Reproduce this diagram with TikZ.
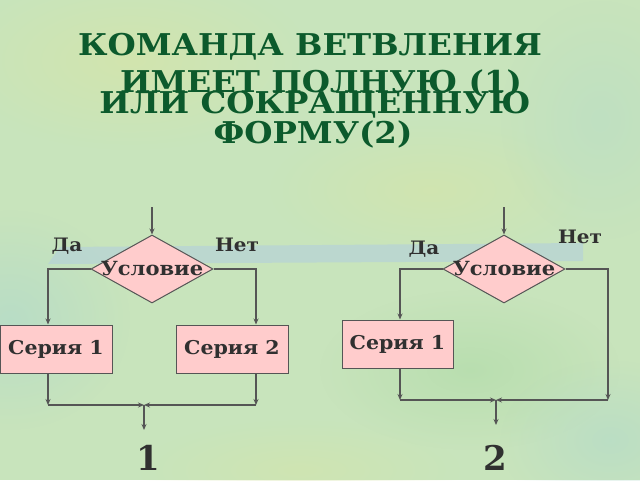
\documentclass[tikz,border=0pt]{standalone}
\usepackage{fontspec}
\setmainfont{DejaVu Serif}
\newfontfamily\widefont[FakeStretch=1.08]{DejaVu Serif}
\usetikzlibrary{shapes.geometric,arrows.meta,fadings}
\tikzfading[name=softblob, inner color=transparent!0, outer color=transparent!100]
\definecolor{bgbase}{RGB}{200,228,188}
\definecolor{bgyellow}{RGB}{214,228,168}
\definecolor{bgblue}{RGB}{178,218,202}
\definecolor{bggreen}{RGB}{178,220,170}
\definecolor{bandcol}{RGB}{182,210,216}
\definecolor{titlegreen}{RGB}{12,90,44}
\definecolor{boxpink}{RGB}{255,204,204}
\definecolor{edgegrey}{RGB}{85,85,85}
\definecolor{textgrey}{RGB}{48,48,48}
\begin{document}
\begin{tikzpicture}[x=1pt,y=-1pt,
  titletext/.style={anchor=base,text=titlegreen,font=\widefont\fontsize{30}{30}\selectfont\bfseries},
  seriesbox/.style={draw=edgegrey,line width=1pt,fill=boxpink,minimum height=48pt,inner sep=0pt,
     text=textgrey,font=\widefont\fontsize{19}{19}\selectfont\bfseries},
  condbox/.style={diamond,draw=edgegrey,line width=1pt,fill=boxpink,minimum width=122pt,
     minimum height=68pt,inner sep=0pt},
  condlabel/.style={text=textgrey,font=\widefont\fontsize{19.5}{19.5}\selectfont\bfseries,anchor=base},
  branchlabel/.style={text=textgrey,font=\widefont\fontsize{18.5}{18.5}\selectfont\bfseries,anchor=base},
  numlabel/.style={text=textgrey,font=\fontsize{34}{34}\selectfont\bfseries,anchor=base},
  flow/.style={draw=edgegrey,line width=1.1pt,-{Stealth[length=6pt,width=5pt]}}]
% background
\fill[bgbase] (0,0) rectangle (640,480);
\useasboundingbox (0,0) rectangle (640,480);
\fill[bgyellow,path fading=softblob,fill opacity=0.7] (130,60) ellipse (180 and 90);
\fill[bgyellow,path fading=softblob,fill opacity=0.6] (430,190) ellipse (160 and 70);
\fill[bgblue,path fading=softblob,fill opacity=0.7] (10,320) ellipse (120 and 110);
\fill[bggreen,path fading=softblob,fill opacity=0.7] (470,370) ellipse (150 and 80);
\fill[bgblue,path fading=softblob,fill opacity=0.6] (610,440) ellipse (110 and 80);
\fill[bgblue,path fading=softblob,fill opacity=0.4] (600,120) ellipse (100 and 120);
\fill[bgyellow,path fading=softblob,fill opacity=0.5] (300,470) ellipse (160 and 50);
\fill[bandcol,fill opacity=0.7] (60,247) -- (583,243) -- (583,261) -- (48,264) -- cycle;
% title
\node[titletext] (t1) at (310,55) {КОМАНДА ВЕТВЛЕНИЯ};
\node[titletext] (t2) at (321,92) {ИМЕЕТ ПОЛНУЮ (1)};
\node[titletext] (t3) at (315,113) {ИЛИ СОКРАЩЕННУЮ};
\node[titletext] (t4) at (313,143) {ФОРМУ(2)};
% left diagram
\coordinate (in1) at (152,207);
\node[condbox,label={[condlabel]center:Условие}] (d1) at (152,269) {};
\node[seriesbox,minimum width=112pt] (s11) at (56,349) {Серия 1};
\node[seriesbox,minimum width=112pt] (s12) at (232,349) {Серия 2};
\coordinate (l1) at (48,405);
\coordinate (r1) at (256,405);
\coordinate (j1) at (144,405);
\coordinate (o1) at (144,430);
\draw[flow] (in1) -- (d1.north);
\draw[flow] (d1.west) -| ([xshift=-8pt]s11.north);
\draw[flow] (d1.east) -| ([xshift=24pt]s12.north);
\draw[flow] ([xshift=-8pt]s11.south) -- (l1);
\draw[flow] ([xshift=24pt]s12.south) -- (r1);
\draw[flow] (l1) -- (j1);
\draw[flow] (r1) -- (j1);
\draw[flow] (j1) -- (o1);
\node[branchlabel] (da1) at (67,251) {Да};
\node[branchlabel] (net1) at (237,251) {Нет};
\node[numlabel] (n1) at (148,470) {1};
% right diagram
\coordinate (in2) at (504,207);
\node[condbox,label={[condlabel]center:Условие}] (d2) at (504,269) {};
\node[seriesbox,minimum width=111pt] (s21) at (397.5,344) {Серия 1};
\coordinate (l2) at (400,400);
\coordinate (r2) at (608,400);
\coordinate (j2) at (496,400);
\coordinate (o2) at (496,425);
\draw[flow] (in2) -- (d2.north);
\draw[flow] (d2.west) -| ([xshift=2.5pt]s21.north);
\draw[flow] ([xshift=2.5pt]s21.south) -- (l2);
\draw[flow] (d2.east) -| (r2);
\draw[flow] (l2) -- (j2);
\draw[flow] (r2) -- (j2);
\draw[flow] (j2) -- (o2);
\node[branchlabel] (da2) at (424,254) {Да};
\node[branchlabel] (net2) at (580,243) {Нет};
\node[numlabel] (n2) at (495,470) {2};
\end{tikzpicture}
\end{document}
